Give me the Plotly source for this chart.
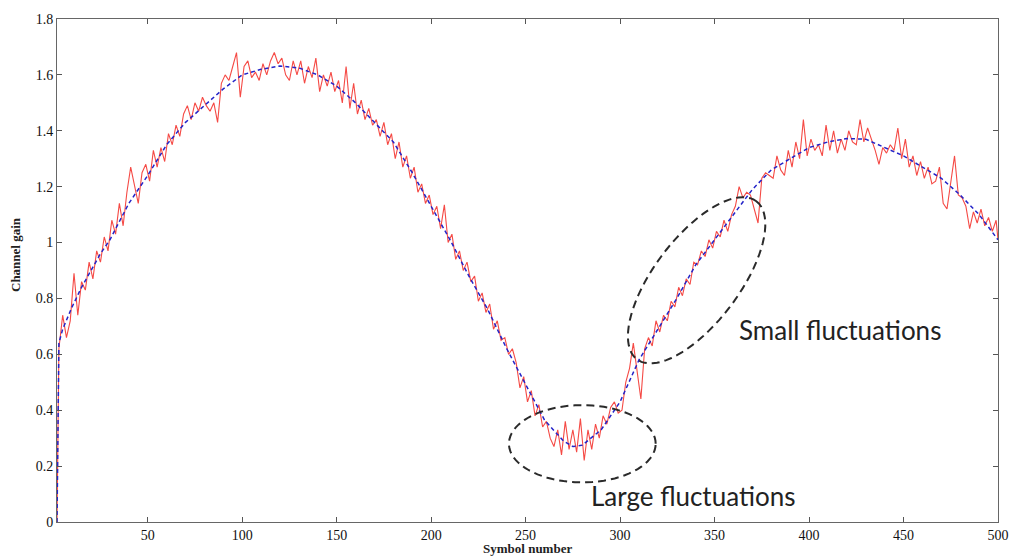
import numpy as np
import plotly.graph_objects as go

# ---------------- data ----------------
start_x = [2]
start_gain = [0.0]

# noisy measured channel gain, symbols 3,5,7,...,499 then 500
noisy_x = list(range(3, 500, 2)) + [500]
noisy_gain = [
    0.62, 0.74, 0.66, 0.72, 0.89, 0.74, 0.86, 0.83, 0.93, 0.87,   # 3-21
    0.97, 0.93, 1.02, 0.97, 1.08, 1.03, 1.14, 1.06, 1.18, 1.27,   # 23-41
    1.20, 1.14, 1.25, 1.28, 1.22, 1.33, 1.27, 1.34, 1.29, 1.39,   # 43-61
    1.35, 1.42, 1.38, 1.46, 1.49, 1.44, 1.50, 1.47, 1.52, 1.49,   # 63-81
    1.47, 1.50, 1.43, 1.57, 1.60, 1.58, 1.63, 1.68, 1.52, 1.63,   # 83-101
    1.65, 1.59, 1.61, 1.58, 1.64, 1.60, 1.65, 1.68, 1.64, 1.66,   # 103-121
    1.60, 1.58, 1.65, 1.60, 1.65, 1.57, 1.63, 1.59, 1.66, 1.54,   # 123-141
    1.60, 1.56, 1.61, 1.54, 1.58, 1.50, 1.63, 1.48, 1.57, 1.46,   # 143-161
    1.51, 1.44, 1.48, 1.42, 1.44, 1.38, 1.43, 1.35, 1.39, 1.30,   # 163-181
    1.36, 1.27, 1.31, 1.23, 1.27, 1.18, 1.21, 1.14, 1.17, 1.10,   # 183-201
    1.13, 1.05, 1.135, 1.00, 1.03, 0.94, 0.97, 0.90, 0.93, 0.86,  # 203-221
    0.88, 0.79, 0.82, 0.75, 0.78, 0.69, 0.72, 0.65, 0.66, 0.60,   # 223-241
    0.62, 0.57, 0.48, 0.52, 0.43, 0.47, 0.38, 0.42, 0.34, 0.36,   # 243-261
    0.30, 0.27, 0.33, 0.24, 0.36, 0.26, 0.33, 0.25, 0.37, 0.22,   # 263-281
    0.33, 0.26, 0.35, 0.30, 0.38, 0.35, 0.41, 0.43, 0.39, 0.40,   # 283-301
    0.50, 0.55, 0.64, 0.53, 0.44, 0.62, 0.66, 0.63, 0.72, 0.68,   # 303-321
    0.74, 0.72, 0.79, 0.77, 0.84, 0.81, 0.87, 0.85, 0.93, 0.92,   # 323-341
    0.97, 0.95, 1.01, 0.98, 1.04, 1.02, 1.08, 1.04, 1.10, 1.13,   # 343-361
    1.20, 1.16, 1.18, 1.17, 1.12, 1.07, 1.23, 1.25, 1.24, 1.23,   # 363-381
    1.31, 1.26, 1.24, 1.33, 1.27, 1.36, 1.30, 1.44, 1.31, 1.37,   # 383-401
    1.33, 1.35, 1.31, 1.42, 1.33, 1.40, 1.32, 1.37, 1.33, 1.40,   # 403-421
    1.36, 1.35, 1.44, 1.36, 1.41, 1.37, 1.33, 1.28, 1.34, 1.32,   # 423-441
    1.35, 1.33, 1.41, 1.30, 1.37, 1.27, 1.31, 1.24, 1.29, 1.23,   # 443-461
    1.27, 1.21, 1.22, 1.27, 1.14, 1.12, 1.22, 1.31, 1.17, 1.16,   # 463-481
    1.13, 1.05, 1.11, 1.07, 1.12, 1.06, 1.09, 1.04, 1.08,         # 483-499
    1.01,                                                         # 500
]

# smooth estimated channel gain
smooth_x = [3, 5, 10, 15, 20, 25, 30, 40, 50, 60, 70, 80, 90, 100, 110, 120,
            130, 140, 150, 160, 170, 180, 190, 200, 210, 220, 230, 240, 250,
            260, 270, 275, 280, 290, 300, 310, 320, 330, 340, 350, 360, 370,
            380, 390, 400, 410, 420, 430, 440, 450, 460, 470, 480, 490, 500]
smooth_gain = [0.64, 0.69, 0.77, 0.84, 0.90, 0.96, 1.01, 1.14, 1.24, 1.35,
               1.43, 1.49, 1.55, 1.60, 1.62, 1.632, 1.625, 1.60, 1.56, 1.50,
               1.43, 1.36, 1.25, 1.13, 1.01, 0.88, 0.76, 0.62, 0.49, 0.365,
               0.29, 0.27, 0.275, 0.33, 0.43, 0.58, 0.69, 0.80, 0.92, 1.01,
               1.10, 1.19, 1.26, 1.30, 1.34, 1.36, 1.372, 1.37, 1.34, 1.31,
               1.27, 1.23, 1.17, 1.10, 1.01]

x_ticks = [50, 100, 150, 200, 250, 300, 350, 400, 450, 500]
y_ticks = [0, 0.2, 0.4, 0.6, 0.8, 1.0, 1.2, 1.4, 1.6, 1.8]
y_tick_labels = ["0", "0.2", "0.4", "0.6", "0.8", "1", "1.2", "1.4", "1.6", "1.8"]

# ---------------- layout geometry ----------------
W, H = 1021, 559
ML, MR, MT, MB = 57, 15, 14, 37
X_RANGE = [2, 500]
Y_RANGE = [0, 1.8]
PW, PH = W - ML - MR, H - MT - MB
px_per_x = PW / (X_RANGE[1] - X_RANGE[0])
px_per_y = PH / (Y_RANGE[1] - Y_RANGE[0])


def ellipse_path(cx, cy, a_px, b_px, angle_deg, n=80):
    t = np.linspace(0, 2 * np.pi, n)
    th = np.deg2rad(angle_deg)
    dx = a_px * np.cos(t) * np.cos(th) - b_px * np.sin(t) * np.sin(th)
    dy = a_px * np.cos(t) * np.sin(th) + b_px * np.sin(t) * np.cos(th)
    xs = cx + dx / px_per_x
    ys = cy + dy / px_per_y
    pts = [f"{x:.3f},{y:.4f}" for x, y in zip(xs, ys)]
    return "M " + " L ".join(pts) + " Z"


def paper_x(px):
    return (px - ML) / PW


def paper_y(py):
    return 1 - (py - MT) / PH


fig = go.Figure()
fig.add_trace(go.Scatter(
    x=start_x + noisy_x, y=start_gain + noisy_gain, mode="lines",
    line=dict(color="#f54a45", width=1.1), hoverinfo="skip", showlegend=False))
fig.add_trace(go.Scatter(
    x=start_x + smooth_x, y=start_gain + smooth_gain, mode="lines",
    line=dict(color="#2424c8", width=1.5, dash="4px,3px"),
    hoverinfo="skip", showlegend=False))

ell_style = dict(color="#2a2a2a", width=2, dash="8px,5px")
fig.add_shape(type="path", xref="x", yref="y",
              path=ellipse_path(280, 0.28, 74, 39, 0), line=ell_style)
fig.add_shape(type="path", xref="x", yref="y",
              path=ellipse_path(340.5, 0.865, 100, 43, 53), line=ell_style)

ann_font = dict(family="Lato, Open Sans, sans-serif", size=26, color="#222")
fig.add_annotation(text="Small fluctuations", x=paper_x(743), y=paper_y(328),
                   xref="paper", yref="paper", xanchor="left",
                   yanchor="middle", showarrow=False, font=ann_font)
fig.add_annotation(text="Large fluctuations", x=paper_x(594), y=paper_y(496),
                   xref="paper", yref="paper", xanchor="left",
                   yanchor="middle", showarrow=False, font=ann_font)

axis_font = dict(family="Liberation Serif, Times New Roman, serif", size=13,
                 color="#222")
fig.add_annotation(text="<b>Symbol number</b>", x=0.5, y=paper_y(549),
                   xref="paper", yref="paper", xanchor="center",
                   yanchor="middle", showarrow=False, font=axis_font)
fig.add_annotation(text="<b>Channel gain</b>", x=paper_x(15), y=paper_y(252),
                   xref="paper", yref="paper", xanchor="center",
                   yanchor="middle", textangle=-90, showarrow=False,
                   font=axis_font)

tick_font = dict(family="Liberation Serif, Times New Roman, serif", size=14,
                 color="#111")
fig.update_xaxes(range=X_RANGE, tickvals=x_ticks, ticks="inside", ticklen=5,
                 tickcolor="#555", showline=True, linecolor="#666",
                 linewidth=1, mirror="ticks", showgrid=False, zeroline=False,
                 tickfont=tick_font)
fig.update_yaxes(range=Y_RANGE, tickvals=y_ticks, ticktext=y_tick_labels,
                 ticks="inside", ticklen=5, tickcolor="#555", showline=True,
                 linecolor="#666", linewidth=1, mirror="ticks",
                 showgrid=False, zeroline=False, tickfont=tick_font)
fig.update_layout(width=W, height=H, margin=dict(l=ML, r=MR, t=MT, b=MB),
                  paper_bgcolor="white", plot_bgcolor="white",
                  showlegend=False)

fig.write_html("out.html")
